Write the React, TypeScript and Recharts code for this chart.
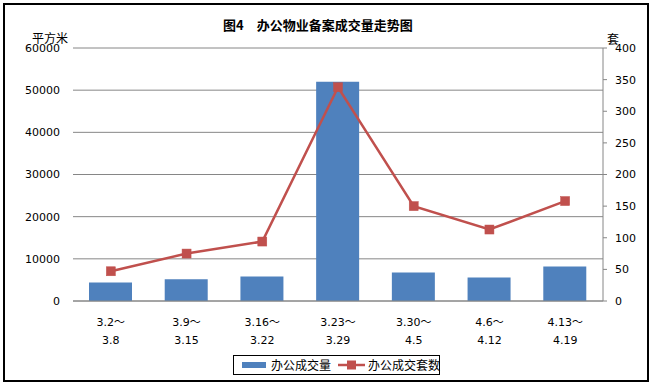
import React from 'react';
import { ComposedChart, Bar, Line, XAxis, YAxis, CartesianGrid, Legend, Customized } from 'recharts';

const periodStarts = ['3.2', '3.9', '3.16', '3.23', '3.30', '4.6', '4.13'];
const periodEnds = ['3.8', '3.15', '3.22', '3.29', '4.5', '4.12', '4.19'];
const areaValues = [4360, 5140, 5790, 52000, 6740, 5550, 8170];
const unitValues = [47, 75, 94, 338, 150, 113, 158];
const leftTicks = [0, 10000, 20000, 30000, 40000, 50000, 60000];
const rightTicks = [0, 50, 100, 150, 200, 250, 300, 350, 400];

const AREA_NAME = '办公成交量';
const UNIT_NAME = '办公成交套数';
const TITLE = '图4\u3000办公物业备案成交量走势图';

const data = periodStarts.map((s, i) => ({
  period: s + '～' + periodEnds[i],
  area: areaValues[i],
  units: unitValues[i],
}));

const NUM_FONT = '"DejaVu Sans", Verdana, sans-serif';
const CJK_FONT = '"Noto Sans CJK SC", sans-serif';
const BLUE = '#4F81BD';
const RED = '#C0504D';
const GRAY = '#868686';

const XTick = (props: any) => {
  const { x, y, payload } = props;
  const [a, b] = String(payload.value).split('～');
  return (
    <g>
      <text x={x} y={y + 25} textAnchor="middle" fontSize={11} fontFamily={NUM_FONT} fill="#000">
        {a}
        <tspan fontFamily={CJK_FONT} fontSize={11}>～</tspan>
      </text>
      <text x={x} y={y + 43} textAnchor="middle" fontSize={11} fontFamily={NUM_FONT} fill="#000">{b}</text>
    </g>
  );
};

const SquareDot = (props: any) => {
  const { cx, cy } = props;
  if (cx == null || cy == null) return null;
  return <rect x={cx - 4.5} y={cy - 4.5} width={9} height={9} fill={RED} stroke={RED} strokeWidth={0.5} />;
};

const LegendBox = () => (
  <div style={{ position: 'relative', width: 207, height: 20, border: '1px solid #000', boxSizing: 'border-box', background: '#fff', fontFamily: CJK_FONT, fontSize: 12, color: '#000' }}>
    <div style={{ position: 'absolute', left: 8, top: 6, width: 24, height: 6, background: BLUE }} />
    <div style={{ position: 'absolute', left: 37, top: 0, lineHeight: '18px', whiteSpace: 'nowrap' }}>{AREA_NAME}</div>
    <svg style={{ position: 'absolute', left: 104, top: 0 }} width={28} height={18}>
      <line x1={0} y1={9} x2={27} y2={9} stroke={RED} strokeWidth={2.5} />
      <rect x={9} y={4.5} width={9} height={9} fill={RED} />
    </svg>
    <div style={{ position: 'absolute', left: 134, top: 0, lineHeight: '18px', whiteSpace: 'nowrap' }}>{UNIT_NAME}</div>
  </div>
);

const Decorations = () => (
  <g>
    <rect x={4} y={4} width={644} height={377} fill="none" stroke="#000" strokeWidth={2} />
    <text x={223} y={29.5} fontSize={13} fontWeight="bold" fontFamily={CJK_FONT} fill="#000">{TITLE}</text>
    <text x={32} y={42.5} fontSize={12} fontFamily={CJK_FONT} fill="#000">平方米</text>
    <text x={607} y={44} fontSize={12} fontFamily={CJK_FONT} fill="#000">套</text>
  </g>
);

export default function App() {
  return (
    <div style={{ position: 'absolute', left: 0, top: 0, width: 651, height: 385, background: '#fff' }}>
      <ComposedChart
        width={651}
        height={385}
        data={data}
        margin={{ top: 48, right: 0, left: 0, bottom: 34 }}
        barCategoryGap="22%"
      >
        <CartesianGrid yAxisId="left" vertical={false} stroke={GRAY} strokeWidth={1} />
        <XAxis
          dataKey="period"
          height={50}
          interval={0}
          tickLine={false}
          tickSize={0}
          tickMargin={0}
          axisLine={{ stroke: GRAY }}
          tick={<XTick />}
        />
        <YAxis
          yAxisId="left"
          width={73}
          domain={[0, 60000]}
          ticks={leftTicks}
          interval={0}
          axisLine={false}
          tickLine={false}
          tickSize={0}
          tickMargin={13}
          tick={{ fontSize: 11, fontFamily: NUM_FONT, fill: '#000' }}
        />
        <YAxis
          yAxisId="right"
          orientation="right"
          width={48}
          domain={[0, 400]}
          ticks={rightTicks}
          interval={0}
          axisLine={{ stroke: GRAY }}
          tickLine={{ stroke: GRAY }}
          tickSize={4}
          tickMargin={8}
          tick={{ fontSize: 11, fontFamily: NUM_FONT, fill: '#000', textAnchor: 'start' }}
        />
        <Bar yAxisId="left" dataKey="area" name={AREA_NAME} fill={BLUE} barSize={43} isAnimationActive={false} />
        <Line
          yAxisId="right"
          dataKey="units"
          name={UNIT_NAME}
          stroke={RED}
          strokeWidth={2.5}
          type="linear"
          dot={<SquareDot />}
          activeDot={false}
          isAnimationActive={false}
        />
        <Legend
          layout="horizontal"
          verticalAlign="middle"
          align="center"
          wrapperStyle={{ left: 233, top: 355, width: 207, height: 20 }}
          content={<LegendBox />}
        />
        <Customized component={Decorations} />
      </ComposedChart>
    </div>
  );
}
